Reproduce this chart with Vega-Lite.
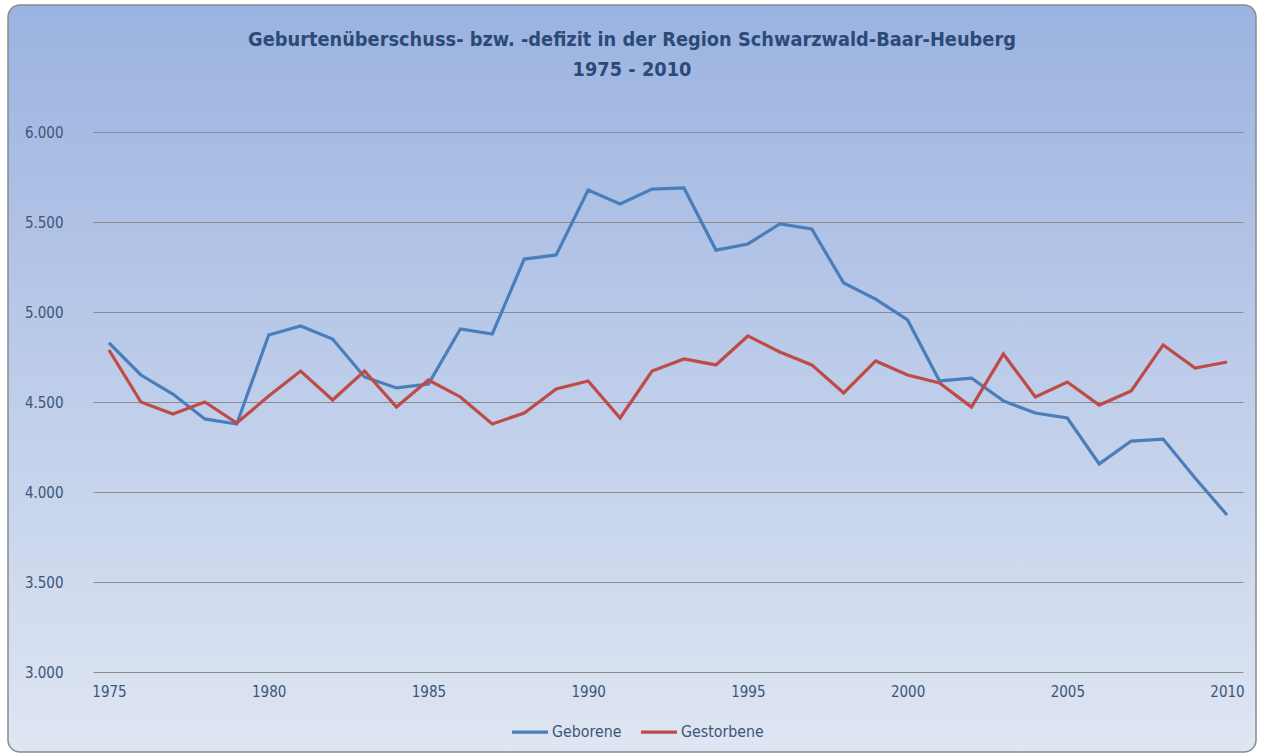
{
  "$schema": "https://vega.github.io/schema/vega-lite/v6.json",
  "autosize": "none",
  "padding": {"left": 8, "top": 5, "right": 5, "bottom": 3},
  "width": 1248,
  "height": 747,
  "background": "#ffffff",
  "title": {
    "text": ["Geburtenüberschuss- bzw. -defizit in der Region Schwarzwald-Baar-Heuberg", "1975 - 2010"],
    "anchor": "middle",
    "frame": "group",
    "offset": -75,
    "font": "DejaVu Sans Condensed",
    "fontSize": 19.8,
    "fontWeight": "bold",
    "color": "#2b4a78",
    "lineHeight": 30
  },
  "config": {
    "view": {
      "fill": {"gradient": "linear", "x1": 0, "y1": 0, "x2": 0, "y2": 1, "stops": [{"offset": 0, "color": "#9bb3e0"}, {"offset": 1, "color": "#dfe6f3"}]},
      "stroke": "#8a8a8a",
      "strokeWidth": 1.5,
      "cornerRadius": 12
    },
    "axis": {
      "labelFont": "Liberation Sans Narrow, DejaVu Sans Condensed",
      "labelFontSize": 15,
      "labelColor": "#3d5577",
      "domain": false,
      "ticks": false,
      "tickSize": 0,
      "title": null
    },
    "legend": {
      "labelFont": "Liberation Sans Narrow, DejaVu Sans Condensed",
      "labelFontSize": 15.8,
      "labelColor": "#3d5577"
    }
  },
  "data": {
    "values": [
      {"year": 1975, "series": "Geborene", "value": 4828},
      {"year": 1976, "series": "Geborene", "value": 4650},
      {"year": 1977, "series": "Geborene", "value": 4544},
      {"year": 1978, "series": "Geborene", "value": 4406},
      {"year": 1979, "series": "Geborene", "value": 4378},
      {"year": 1980, "series": "Geborene", "value": 4872},
      {"year": 1981, "series": "Geborene", "value": 4922},
      {"year": 1982, "series": "Geborene", "value": 4850},
      {"year": 1983, "series": "Geborene", "value": 4639},
      {"year": 1984, "series": "Geborene", "value": 4578},
      {"year": 1985, "series": "Geborene", "value": 4600},
      {"year": 1986, "series": "Geborene", "value": 4906},
      {"year": 1987, "series": "Geborene", "value": 4878},
      {"year": 1988, "series": "Geborene", "value": 5294},
      {"year": 1989, "series": "Geborene", "value": 5317},
      {"year": 1990, "series": "Geborene", "value": 5678},
      {"year": 1991, "series": "Geborene", "value": 5600},
      {"year": 1992, "series": "Geborene", "value": 5683},
      {"year": 1993, "series": "Geborene", "value": 5689},
      {"year": 1994, "series": "Geborene", "value": 5344},
      {"year": 1995, "series": "Geborene", "value": 5378},
      {"year": 1996, "series": "Geborene", "value": 5489},
      {"year": 1997, "series": "Geborene", "value": 5461},
      {"year": 1998, "series": "Geborene", "value": 5161},
      {"year": 1999, "series": "Geborene", "value": 5072},
      {"year": 2000, "series": "Geborene", "value": 4956},
      {"year": 2001, "series": "Geborene", "value": 4617},
      {"year": 2002, "series": "Geborene", "value": 4633},
      {"year": 2003, "series": "Geborene", "value": 4506},
      {"year": 2004, "series": "Geborene", "value": 4439},
      {"year": 2005, "series": "Geborene", "value": 4411},
      {"year": 2006, "series": "Geborene", "value": 4156},
      {"year": 2007, "series": "Geborene", "value": 4283},
      {"year": 2008, "series": "Geborene", "value": 4294},
      {"year": 2009, "series": "Geborene", "value": 4078},
      {"year": 2010, "series": "Geborene", "value": 3872},
      {"year": 1975, "series": "Gestorbene", "value": 4789},
      {"year": 1976, "series": "Gestorbene", "value": 4500},
      {"year": 1977, "series": "Gestorbene", "value": 4433},
      {"year": 1978, "series": "Gestorbene", "value": 4500},
      {"year": 1979, "series": "Gestorbene", "value": 4383},
      {"year": 1980, "series": "Gestorbene", "value": 4533},
      {"year": 1981, "series": "Gestorbene", "value": 4672},
      {"year": 1982, "series": "Gestorbene", "value": 4511},
      {"year": 1983, "series": "Gestorbene", "value": 4672},
      {"year": 1984, "series": "Gestorbene", "value": 4472},
      {"year": 1985, "series": "Gestorbene", "value": 4622},
      {"year": 1986, "series": "Gestorbene", "value": 4528},
      {"year": 1987, "series": "Gestorbene", "value": 4378},
      {"year": 1988, "series": "Gestorbene", "value": 4439},
      {"year": 1989, "series": "Gestorbene", "value": 4572},
      {"year": 1990, "series": "Gestorbene", "value": 4617},
      {"year": 1991, "series": "Gestorbene", "value": 4411},
      {"year": 1992, "series": "Gestorbene", "value": 4672},
      {"year": 1993, "series": "Gestorbene", "value": 4739},
      {"year": 1994, "series": "Gestorbene", "value": 4706},
      {"year": 1995, "series": "Gestorbene", "value": 4867},
      {"year": 1996, "series": "Gestorbene", "value": 4778},
      {"year": 1997, "series": "Gestorbene", "value": 4706},
      {"year": 1998, "series": "Gestorbene", "value": 4550},
      {"year": 1999, "series": "Gestorbene", "value": 4728},
      {"year": 2000, "series": "Gestorbene", "value": 4650},
      {"year": 2001, "series": "Gestorbene", "value": 4606},
      {"year": 2002, "series": "Gestorbene", "value": 4472},
      {"year": 2003, "series": "Gestorbene", "value": 4767},
      {"year": 2004, "series": "Gestorbene", "value": 4528},
      {"year": 2005, "series": "Gestorbene", "value": 4611},
      {"year": 2006, "series": "Gestorbene", "value": 4483},
      {"year": 2007, "series": "Gestorbene", "value": 4561},
      {"year": 2008, "series": "Gestorbene", "value": 4817},
      {"year": 2009, "series": "Gestorbene", "value": 4689},
      {"year": 2010, "series": "Gestorbene", "value": 4722}
    ]
  },
  "mark": {"type": "line", "strokeWidth": 3.2, "clip": false},
  "encoding": {
    "x": {
      "field": "year",
      "type": "quantitative",
      "scale": {"domain": [1974.5, 2010.5], "range": [85, 1235], "nice": false, "zero": false},
      "axis": {
        "values": [1975, 1980, 1985, 1990, 1995, 2000, 2005, 2010],
        "format": "d",
        "orient": "bottom",
        "offset": -80,
        "grid": false,
        "labelPadding": 12
      }
    },
    "y": {
      "field": "value",
      "type": "quantitative",
      "scale": {"domain": [3000, 6000], "range": [667, 127], "nice": false, "zero": false},
      "axis": {
        "values": [3000, 3500, 4000, 4500, 5000, 5500, 6000],
        "labelExpr": "replace(format(datum.value, ','), ',', '.')",
        "orient": "left",
        "offset": -85,
        "grid": true,
        "gridColor": "#8c8c8c",
        "gridWidth": 1,
        "labelPadding": 30
      }
    },
    "color": {
      "field": "series",
      "type": "nominal",
      "scale": {"domain": ["Geborene", "Gestorbene"], "range": ["#4a7ebb", "#be4b48"]},
      "legend": {
        "title": null,
        "orient": "none",
        "direction": "horizontal",
        "legendX": 502,
        "legendY": 707,
        "symbolType": "stroke",
        "symbolSize": 1300,
        "symbolStrokeWidth": 3.2,
        "labelOffset": 2,
        "columnPadding": 12
      }
    }
  }
}
